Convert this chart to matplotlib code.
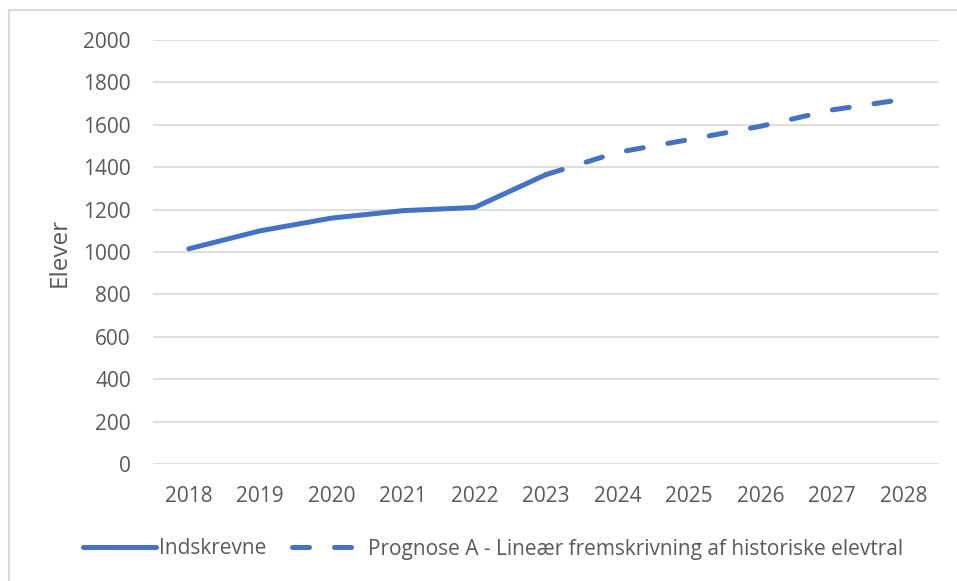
import matplotlib
matplotlib.use('Agg')
import matplotlib.pyplot as plt
from matplotlib.lines import Line2D
import numpy as np

# Data
years = [2018, 2019, 2020, 2021, 2022, 2023, 2024, 2025, 2026, 2027, 2028]
indskrevne_years = [2018, 2019, 2020, 2021, 2022, 2023]
indskrevne = [1015, 1100, 1160, 1195, 1210, 1365]
prognose_years = [2023, 2024, 2025, 2026, 2027, 2028]
prognose = [1365, 1470, 1530, 1593, 1670, 1720]
yticks = [0, 200, 400, 600, 800, 1000, 1200, 1400, 1600, 1800, 2000]

BLUE = '#4472C4'
GREY_TXT = '#595959'
GRID = '#d9d9d9'

plt.rcParams['font.family'] = ['Open Sans', 'DejaVu Sans']

W, H = 957, 581
fig = plt.figure(figsize=(W / 100, H / 100), dpi=100)
ax = fig.add_axes([153 / W, 1 - 464 / H, (939 - 153) / W, (464 - 40) / H])

ax.plot(indskrevne_years, indskrevne, color=BLUE, lw=3.6,
        solid_capstyle='round', solid_joinstyle='round', label='Indskrevne', zorder=3)
ax.plot(prognose_years, prognose, color=BLUE, lw=3.6, dashes=(3.4, 5.0),
        dash_capstyle='round', label='Prognose A - Lineær fremskrivning af historiske elevtral', zorder=3)

ax.set_xlim(2017.5, 2028.5)
ax.set_ylim(0, 2000)
ax.set_xticks(years)
ax.set_xticklabels([str(y) for y in years])
ax.set_yticks(yticks)
ax.grid(axis='y', color=GRID, lw=1.2)
ax.set_axisbelow(True)
for s in ax.spines.values():
    s.set_visible(False)
ax.tick_params(length=0, labelsize=15, colors=GREY_TXT, pad=16)
ax.set_ylabel('Elever', fontsize=17.5, color=GREY_TXT, labelpad=8)

fig.legend(loc='center', bbox_to_anchor=(493 / W, 1 - 549 / H), ncol=2, frameon=False,
           fontsize=15, labelcolor=GREY_TXT, handlelength=3.5, handletextpad=0.15,
           columnspacing=1.2)

# chart area border (top and left edges visible)
fig.add_artist(Line2D([9 / W, 1.0], [1 - 10 / H, 1 - 10 / H], color=GRID, lw=1.5))
fig.add_artist(Line2D([9 / W, 9 / W], [0.0, 1 - 10 / H], color=GRID, lw=1.5))

fig.savefig('out.png', dpi=100)
